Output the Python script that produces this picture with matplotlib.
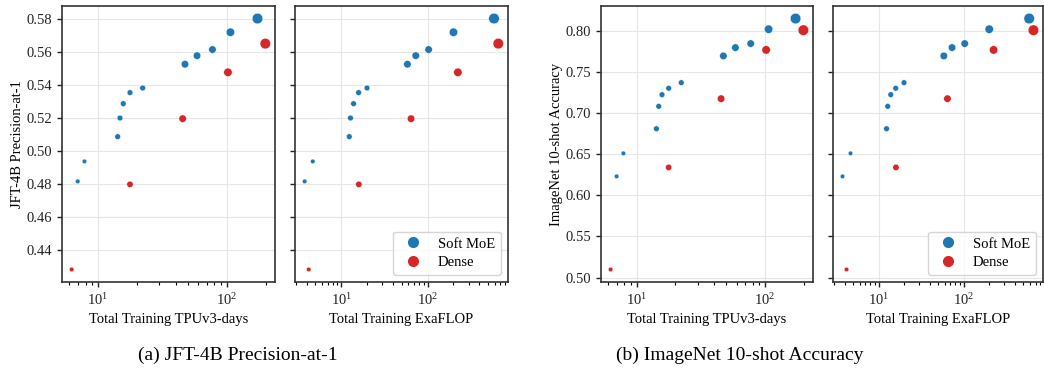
import matplotlib
matplotlib.use("Agg")
import matplotlib.pyplot as plt
from matplotlib.lines import Line2D

# compute per model (same models in both benchmarks)
moe_tpu_days = [6.95, 7.84, 14.2, 14.8, 15.7, 17.7, 22.2, 47.3, 58.7, 77.3, 106.6, 173]
moe_exaflop = [3.77, 4.68, 12.4, 12.8, 13.9, 15.9, 19.9, 58.5, 73.1, 103, 200, 590]
dense_tpu_days = [6.24, 17.7, 45.4, 102, 199]
dense_exaflop = [4.2, 16.0, 64.5, 225, 662]

# marker areas (pt^2), growing with model size
moe_sizes = [11, 11, 17, 17, 17, 17, 17, 29, 29, 29, 37, 58]
dense_sizes = [11, 21, 29, 37, 58]

# metrics
moe_jft = [0.4817, 0.4938, 0.5088, 0.5201, 0.5288, 0.5355, 0.5383, 0.5527, 0.5579, 0.5616, 0.5721, 0.5804]
dense_jft = [0.4283, 0.4799, 0.5197, 0.5478, 0.5652]
moe_inet = [0.6232, 0.6512, 0.6812, 0.7085, 0.7227, 0.7305, 0.7373, 0.7699, 0.7800, 0.7849, 0.8024, 0.8154]
dense_inet = [0.5098, 0.6341, 0.7178, 0.7772, 0.8012]

blue = "#1f77b4"
red = "#d62728"

plt.rcParams["font.family"] = ["Liberation Serif", "DejaVu Serif"]
plt.rcParams["mathtext.fontset"] = "stix"
plt.rcParams["font.size"] = 10

W, H = 1044, 377
fig = plt.figure(figsize=(W / 100, H / 100), dpi=100)


def px_axes(left, right, top=6, bottom=282):
    return fig.add_axes([left / W, (H - bottom) / H, (right - left) / W, (bottom - top) / H])


def style(ax):
    ax.set_xscale("log")
    ax.grid(True, which="major", color="#e6e6e6", linewidth=0.8)
    ax.set_axisbelow(True)
    for s in ax.spines.values():
        s.set_color("#333333")
        s.set_linewidth(1.2)
    ax.tick_params(colors="#222222", labelsize=10.5, length=3.5, width=1)
    ax.tick_params(which="minor", length=2, width=0.8)


def panel(ax, mx, my, dx, dy, xlabel, ylabel=None, legend=False, ticks=None):
    style(ax)
    ax.scatter(mx, my, s=moe_sizes, color=blue, edgecolor="white", linewidth=0.3, zorder=3)
    ax.scatter(dx, dy, s=dense_sizes, color=red, edgecolor="white", linewidth=0.3, zorder=3)
    ax.set_xlabel(xlabel, fontsize=10.5)
    if ticks is not None:
        ax.set_yticks(ticks)
    if ylabel:
        ax.set_ylabel(ylabel, fontsize=10.5, labelpad=2)
    else:
        ax.tick_params(labelleft=False)
    if legend:
        handles = [
            Line2D([], [], marker="o", linestyle="", color=blue, markersize=7),
            Line2D([], [], marker="o", linestyle="", color=red, markersize=7),
        ]
        ax.legend(handles, ["Soft MoE", "Dense"], loc="lower right", fontsize=10.5,
                  handlelength=1.9, handletextpad=0.75, borderpad=0.4,
                  labelspacing=0.35, edgecolor="#cccccc")


jft_ticks = [0.44, 0.46, 0.48, 0.50, 0.52, 0.54, 0.56, 0.58]
inet_ticks = [0.50, 0.55, 0.60, 0.65, 0.70, 0.75, 0.80]

ax1 = px_axes(62, 275)
panel(ax1, moe_tpu_days, moe_jft, dense_tpu_days, dense_jft,
      "Total Training TPUv3-days", "JFT-4B Precision-at-1", ticks=jft_ticks)
ax2 = px_axes(295, 508)
panel(ax2, moe_exaflop, moe_jft, dense_exaflop, dense_jft,
      "Total Training ExaFLOP", legend=True, ticks=jft_ticks)
ax2.set_ylim(ax1.get_ylim())

ax3 = px_axes(601, 813)
panel(ax3, moe_tpu_days, moe_inet, dense_tpu_days, dense_inet,
      "Total Training TPUv3-days", "ImageNet 10-shot Accuracy", ticks=inet_ticks)
ax4 = px_axes(833, 1043)
panel(ax4, moe_exaflop, moe_inet, dense_exaflop, dense_inet,
      "Total Training ExaFLOP", legend=True, ticks=inet_ticks)
ax4.set_ylim(ax3.get_ylim())

fig.text(238 / W, 1 - 355 / H, "(a) JFT-4B Precision-at-1", ha="center", va="center", fontsize=14)
fig.text(740 / W, 1 - 355 / H, "(b) ImageNet 10-shot Accuracy", ha="center", va="center", fontsize=14)

fig.savefig("out.png", dpi=100)
